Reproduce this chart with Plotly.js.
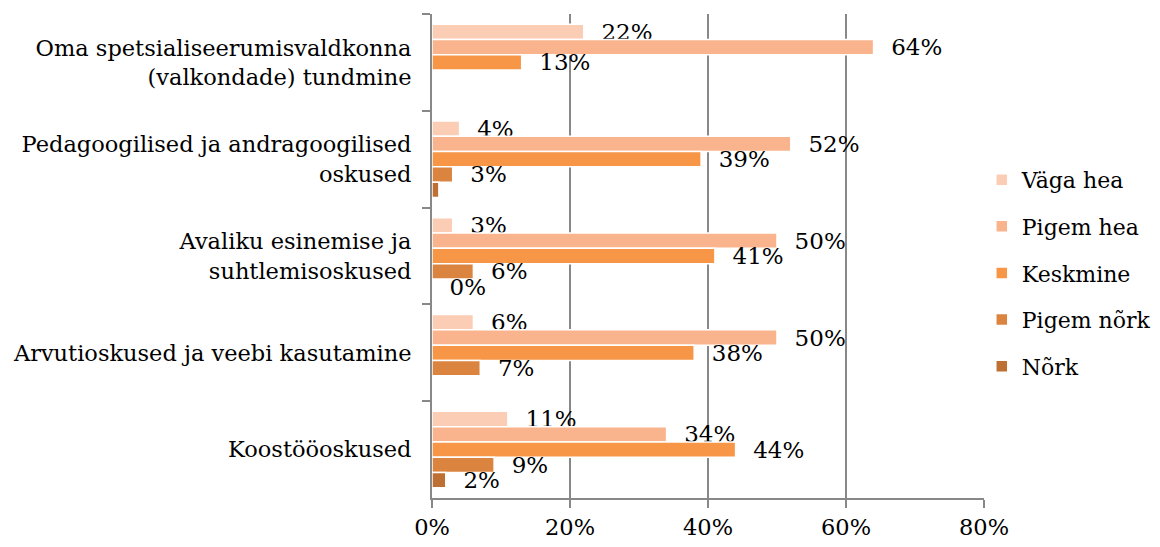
<!DOCTYPE html>
<html>
<head>
<meta charset="utf-8">
<script src="https://cdn.plot.ly/plotly-3.0.1.min.js"></script>
<style>html,body{margin:0;padding:0;background:#fff;}#chart{width:1160px;height:547px;}</style>
</head>
<body>
<div id="chart"></div>
<script>
// Categories, top to bottom
const categories = [
  "Oma spetsialiseerumisvaldkonna<br>(valkondade) tundmine",
  "Pedagoogilised ja andragoogilised<br>oskused",
  "Avaliku esinemise ja<br>suhtlemisoskused",
  "Arvutioskused ja veebi kasutamine",
  "Koostööoskused"
];
const seriesNames = ["Väga hea", "Pigem hea", "Keskmine", "Pigem nõrk", "Nõrk"];
const vagaHea   = [22, 4, 3, 6, 11];
const pigemHea  = [64, 52, 50, 50, 34];
const keskmine  = [13, 39, 41, 38, 44];
const pigemNork = [null, 3, 6, 7, 9];
const nork      = [null, 1, 0, null, 2];
// value labels not shown in the original (series index, category index)
const hiddenLabels = [[4, 1]];
const colors = ["#FBCDB5", "#F9B48D", "#F79646", "#DA8440", "#BE6F33"];
const xTicks = [0, 20, 40, 60, 80];

const seriesValues = [vagaHea, pigemHea, keskmine, pigemNork, nork];
const FONT = "DejaVu Serif, Liberation Serif, serif";

const traces = seriesValues.map((vals, s) => ({
  type: "bar",
  orientation: "h",
  name: seriesNames[s],
  legendgroup: "g" + s,
  y: categories,
  x: vals,
  text: vals.map((v, c) => (v === null || hiddenLabels.some(h => h[0] === s && h[1] === c)) ? "" : "\u00a0\u00a0" + v + "%"),
  texttemplate: "%{text}",
  textposition: "outside",
  constraintext: "none",
  cliponaxis: false,
  textfont: {family: FONT, size: 23, color: "#000"},
  marker: {color: colors[s], line: {color: "#ffffff", width: 1.5}},
  hoverinfo: "skip"
}));

const layout = {
  width: 1160, height: 547,
  margin: {l: 432, r: 176, t: 14, b: 49, pad: 0, autoexpand: false},
  paper_bgcolor: "#fff", plot_bgcolor: "#fff",
  barmode: "group",
  bargap: 0.21,
  bargroupgap: 0,
  font: {family: FONT, size: 22.5, color: "#000"},
  showlegend: true,
  legend: {
    x: 0.996, xanchor: "left", y: 0.465, yanchor: "middle",
    font: {family: FONT, size: 22, color: "#000"},
    tracegroupgap: 15,
    bgcolor: "rgba(0,0,0,0)"
  },
  xaxis: {
    range: [0, 80],
    tickvals: xTicks,
    ticktext: xTicks.map(t => t + "%"),
    showgrid: true, gridcolor: "#888888", gridwidth: 2,
    zeroline: false,
    showline: true, linecolor: "#888888", linewidth: 2,
    ticks: "outside", ticklen: 8, tickcolor: "#888888", tickwidth: 2,
    tickfont: {family: FONT, size: 22.5, color: "#000"},
    fixedrange: true
  },
  yaxis: {
    type: "category",
    categoryorder: "array",
    categoryarray: categories,
    autorange: "reversed",
    showgrid: false, zeroline: false,
    showline: true, linecolor: "#888888", linewidth: 2,
    ticks: "outside", tickson: "boundaries", ticklen: 8, tickcolor: "#888888", tickwidth: 2,
    ticklabelstandoff: 14,
    tickfont: {family: FONT, size: 22.5, color: "#000"},
    fixedrange: true
  }
};

Plotly.newPlot("chart", traces, layout, {staticPlot: true, displayModeBar: false});
</script>
</body>
</html>
